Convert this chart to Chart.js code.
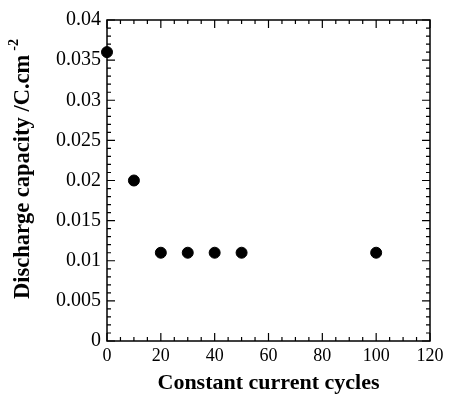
<!DOCTYPE html>
<html>
<head>
<meta charset="utf-8">
<script src="https://cdn.jsdelivr.net/npm/chart.js@4"></script>
<style>
  html, body { margin: 0; padding: 0; background: #fff; }
  #wrap { width: 450px; height: 394px; }
</style>
</head>
<body>
<div id="wrap"><canvas id="c" width="450" height="394"></canvas></div>
<script>
// data
const cycles = [0, 10, 20, 30, 40, 50, 100];
const capacity = [0.036, 0.020, 0.011, 0.011, 0.011, 0.011, 0.011];
const xTicks = [0, 20, 40, 60, 80, 100, 120];
const yTicks = [0, 0.005, 0.01, 0.015, 0.02, 0.025, 0.03, 0.035, 0.04];

const SERIF = "'Liberation Serif', 'Times New Roman', serif";

// inward ticks on all four sides + frame + y title with superscript
const frameTicks = {
  id: 'frameTicks',
  afterDraw(chart) {
    const { ctx, chartArea: a, scales } = chart;
    const xs = scales.x, ys = scales.y;
    ctx.save();
    ctx.strokeStyle = '#000';
    ctx.lineWidth = 1.5;
    ctx.strokeRect(a.left, a.top, a.right - a.left, a.bottom - a.top);
    ctx.lineWidth = 1.2;
    ctx.beginPath();
    // x: minor every 5, major every 20
    for (let v = 0; v <= 120; v += 5) {
      const px = xs.getPixelForValue(v);
      const len = v % 20 === 0 ? 8 : 4;
      ctx.moveTo(px, a.bottom); ctx.lineTo(px, a.bottom - len);
      ctx.moveTo(px, a.top); ctx.lineTo(px, a.top + len);
    }
    // y: minor every 0.001, major every 0.005
    for (let i = 0; i <= 40; i++) {
      const py = ys.getPixelForValue(i / 1000);
      const len = i % 5 === 0 ? 8 : 4;
      ctx.moveTo(a.left, py); ctx.lineTo(a.left + len, py);
      ctx.moveTo(a.right, py); ctx.lineTo(a.right - len, py);
    }
    ctx.stroke();

    // y axis title
    const main = 'Discharge capacity /C.cm';
    const sup = '-2';
    ctx.fillStyle = '#000';
    ctx.font = 'bold 22.5px ' + SERIF;
    const wMain = ctx.measureText(main).width;
    ctx.font = 'bold 14px ' + SERIF;
    const wSup = ctx.measureText(sup).width + 4;
    ctx.translate(29, 169);
    ctx.rotate(-Math.PI / 2);
    ctx.textBaseline = 'alphabetic';
    ctx.textAlign = 'left';
    const x0 = -(wMain + wSup) / 2;
    ctx.font = 'bold 22.5px ' + SERIF;
    ctx.fillText(main, x0, 0);
    ctx.font = 'bold 14px ' + SERIF;
    ctx.fillText(sup, x0 + wMain + 4, -11);
    ctx.restore();
  }
};

new Chart(document.getElementById('c'), {
  type: 'scatter',
  data: {
    datasets: [{
      data: cycles.map((x, i) => ({ x: x, y: capacity[i] })),
      backgroundColor: '#000',
      borderColor: '#000',
      pointRadius: 5.5,
      pointHoverRadius: 5.5,
      clip: false
    }]
  },
  options: {
    responsive: false,
    animation: false,
    events: [],
    layout: { padding: { top: 20, right: 20, left: 0, bottom: 0 } },
    plugins: { legend: { display: false }, tooltip: { enabled: false } },
    scales: {
      x: {
        type: 'linear',
        min: 0, max: 120,
        afterBuildTicks: s => { s.ticks = xTicks.map(v => ({ value: v })); },
        afterFit: s => { s.height = 53; },
        grid: { display: false, drawTicks: false },
        border: { display: false },
        ticks: {
          color: '#000',
          padding: 4,
          maxRotation: 0,
          font: { family: SERIF, size: 18 }
        },
        title: {
          display: true,
          text: 'Constant current cycles',
          color: '#000',
          padding: { top: 5, bottom: -3 },
          font: { family: SERIF, size: 22, weight: 'bold' }
        }
      },
      y: {
        type: 'linear',
        min: 0, max: 0.04,
        afterBuildTicks: s => { s.ticks = yTicks.map(v => ({ value: v })); },
        afterFit: s => { s.width = 107; },
        grid: { display: false, drawTicks: false },
        border: { display: false },
        ticks: {
          color: '#000',
          padding: 6,
          font: { family: SERIF, size: 20 },
          callback: v => String(Number(v.toFixed(4)))
        },
        title: { display: false }
      }
    }
  },
  plugins: [frameTicks]
});
</script>
</body>
</html>
